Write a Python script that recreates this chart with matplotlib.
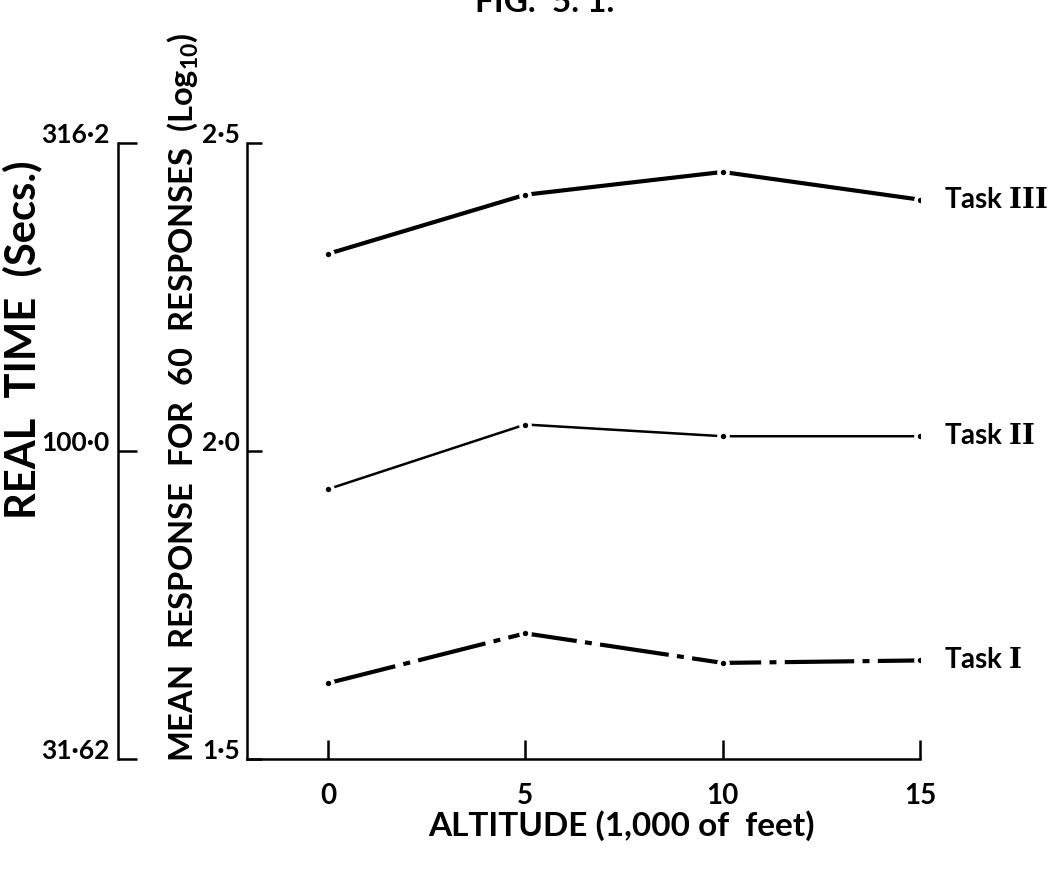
import matplotlib
matplotlib.use('Agg')
import matplotlib.pyplot as plt

# altitude (1,000 ft) and mean response time for 60 responses (log10 secs)
altitude = [0, 5, 10, 15]
task1 = [1.623, 1.704, 1.656, 1.660]
task2 = [1.938, 2.043, 2.024, 2.024]
task3 = [2.320, 2.416, 2.453, 2.408]
task_names = [r'Task $\mathbf{I}$', r'Task $\mathbf{II}$', r'Task $\mathbf{III}$']

log_ticks = [1.5, 2.0, 2.5]
log_labels = ['1\u00b75', '2\u00b70', '2\u00b75']
real_ticks = [31.62, 100.0, 316.2]
real_labels = ['31\u00b762', '100\u00b70', '316\u00b72']
x_labels = ['0', '5', '10', '15']

plt.rcParams['font.family'] = ['Lato', 'DejaVu Sans']
plt.rcParams['font.weight'] = 'bold'
plt.rcParams['mathtext.fontset'] = 'custom'
plt.rcParams['mathtext.rm'] = 'Lato:bold'
plt.rcParams['mathtext.bf'] = 'DejaVu Serif:bold'
plt.rcParams['lines.scale_dashes'] = False

fig = plt.figure(figsize=(10.55, 8.69), dpi=100)
W, H = 1055, 869
bottom = 1 - 759 / H
height = (759 - 143) / H

ax = fig.add_axes([247 / W, bottom, (920 - 247) / W, height])
ax.set_xlim(-2.05, 15)
ax.set_ylim(1.5, 2.5)
for s in ['top', 'right']:
    ax.spines[s].set_visible(False)
for s in ['left', 'bottom']:
    ax.spines[s].set_linewidth(1.8)

dot = dict(marker='o', markersize=6.5, markerfacecolor='black',
           markeredgecolor='white', markeredgewidth=2.6)

ax.plot(altitude, task3, color='black', lw=3.0, solid_capstyle='butt', **dot)
ax.plot(altitude, task2, color='black', lw=1.8, solid_capstyle='butt', **dot)
l1, = ax.plot(altitude, task1, color='black', lw=3.0, dash_capstyle='butt', **dot)
l1.set_dashes((50, 6, 5, 6))

for name, vals in zip(task_names, [task1, task2, task3]):
    ax.annotate(name, xy=(altitude[-1], vals[-1]), xytext=(17, 0),
                textcoords='offset points', va='center', ha='left',
                fontsize=20, annotation_clip=False)

ax.set_yticks(log_ticks)
ax.set_yticklabels(log_labels, fontsize=19)
ax.set_xticks(altitude)
ax.set_xticklabels(x_labels, fontsize=20)
ax.tick_params(axis='y', direction='in', length=11, width=1.8, pad=5)
ax.tick_params(axis='x', direction='in', length=14, width=1.8, pad=17)
for lab in ax.get_yticklabels():
    lab.set_verticalalignment('baseline')

# outer real-time scale
ax2 = fig.add_axes([118 / W, bottom, 0.02, height])
ax2.patch.set_visible(False)
ax2.set_yscale('log')
ax2.set_ylim(real_ticks[0], real_ticks[-1])
for s in ['top', 'right', 'bottom']:
    ax2.spines[s].set_visible(False)
ax2.spines['left'].set_linewidth(1.8)
ax2.set_xticks([])
ax2.set_yticks(real_ticks)
ax2.set_yticklabels(real_labels, fontsize=19)
ax2.minorticks_off()
ax2.tick_params(axis='y', which='both', direction='in', length=14, width=1.8, pad=6)
for lab in ax2.get_yticklabels():
    lab.set_verticalalignment('baseline')

fig.text(22 / W, 1 - 340 / H, 'REAL  TIME  (Secs.)', rotation=90,
         ha='center', va='center', fontsize=30)
fig.text(183 / W, 1 - 762 / H, 'MEAN  RESPONSE  FOR  60  RESPONSES  (Log$_{10}$)',
         rotation=90, ha='center', va='bottom', fontsize=23.5)
fig.text(621 / W, 1 - 826 / H, 'ALTITUDE (1,000 of  feet)',
         ha='center', va='center', fontsize=24)
fig.text(545 / W, 1 - 12 / H, 'FIG.  5. 1.', ha='center', va='baseline',
         fontsize=24)

plt.savefig('out.png', dpi=100, facecolor='white')
